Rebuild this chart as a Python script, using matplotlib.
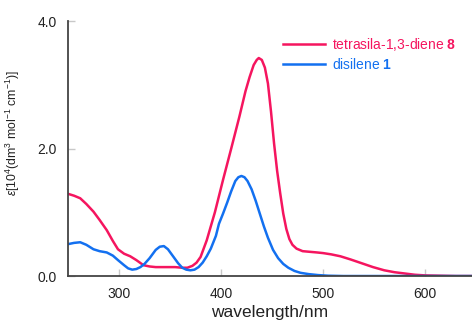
import numpy as np
import matplotlib.pyplot as plt

plt.rcParams['font.family'] = ['Liberation Sans', 'DejaVu Sans']
plt.rcParams['mathtext.fontset'] = 'custom'
plt.rcParams['mathtext.rm'] = 'Liberation Sans'
plt.rcParams['mathtext.it'] = 'Liberation Sans:italic'
plt.rcParams['mathtext.bf'] = 'Liberation Sans:bold'

# tetrasila-1,3-diene 8
wl_diene = [250, 256, 262, 268, 275, 281, 288, 294, 299, 305, 311, 317, 324, 330, 336, 345,
            355, 362, 367, 372, 376, 380, 386, 394, 402, 410, 418, 424, 428, 432, 435, 437,
            440, 443, 446, 449, 452, 455, 458, 461, 464, 467, 470, 474, 480, 487, 494, 500,
            508, 517, 527, 538, 549, 560, 570, 580, 590, 600, 615, 630, 650]
eps_diene = [1.29, 1.26, 1.22, 1.13, 1.01, 0.88, 0.72, 0.55, 0.42, 0.35, 0.31, 0.25, 0.17, 0.15,
             0.14, 0.14, 0.14, 0.13, 0.13, 0.16, 0.21, 0.30, 0.56, 1.00, 1.51, 2.00, 2.50, 2.90,
             3.12, 3.31, 3.39, 3.42, 3.39, 3.27, 3.02, 2.58, 2.08, 1.65, 1.30, 0.98, 0.74, 0.58,
             0.49, 0.43, 0.39, 0.38, 0.37, 0.36, 0.34, 0.31, 0.26, 0.20, 0.14, 0.09, 0.06, 0.04,
             0.02, 0.01, 0.005, 0.0, 0.0]

# disilene 1
wl_disilene = [250, 256, 262, 268, 275, 281, 288, 294, 299, 305, 309, 313, 317, 321, 325, 330,
               336, 340, 344, 348, 353, 358, 362, 366, 370, 374, 378, 382, 386, 390, 395, 398,
               402, 406, 410, 414, 417, 420, 423, 426, 430, 434, 438, 442, 446, 451, 456, 461,
               466, 472, 478, 486, 495, 505, 520, 650]
eps_disilene = [0.50, 0.52, 0.53, 0.49, 0.42, 0.39, 0.37, 0.32, 0.25, 0.17, 0.12, 0.10, 0.11,
                0.14, 0.19, 0.28, 0.41, 0.46, 0.47, 0.42, 0.31, 0.20, 0.13, 0.10, 0.09, 0.10,
                0.14, 0.21, 0.31, 0.43, 0.63, 0.82, 0.98, 1.15, 1.33, 1.49, 1.55, 1.57, 1.55,
                1.49, 1.36, 1.18, 0.98, 0.78, 0.60, 0.41, 0.28, 0.19, 0.13, 0.08, 0.05, 0.03,
                0.015, 0.005, 0.0, 0.0]

pink = '#f5155f'
blue = '#1370f0'

fig = plt.figure(figsize=(4.72, 3.29), dpi=100)
ax = fig.add_axes([0.144, 0.161, 0.856, 0.775])

ax.plot(wl_diene, eps_diene, color=pink, lw=1.8, label=r'tetrasila-1,3-diene $\mathbf{8}$')
ax.plot(wl_disilene, eps_disilene, color=blue, lw=1.8, label=r'disilene $\mathbf{1}$')

ax.set_xlim(250, 646)
ax.set_ylim(0, 4.0)
ax.set_xticks([300, 400, 500, 600])
ax.set_yticks([0.0, 2.0, 4.0])
ax.set_yticklabels(['0.0', '2.0', '4.0'])
ax.tick_params(direction='in', length=5, width=1, color='#c8c8c8', labelsize=10,
               labelcolor='#222222', pad=8)
for side in ['top', 'right']:
    ax.spines[side].set_visible(False)
for side in ['left', 'bottom']:
    ax.spines[side].set_color('#444444')
    ax.spines[side].set_linewidth(1.3)

ax.set_xlabel('wavelength/nm', fontsize=12.5, color='#222222', labelpad=3)
ax.set_ylabel(r'$\mathit{\varepsilon}$[10$^4$(dm$^3$ mol$^{-1}$ cm$^{-1}$)]', fontsize=8.8,
              color='#222222')
ax.yaxis.set_label_coords(-0.115, 0.56)

leg = ax.legend(loc='upper left', bbox_to_anchor=(0.502, 0.99), frameon=False, fontsize=10,
                handlelength=3.0, handletextpad=0.5, labelspacing=0.25)
for txt, c in zip(leg.get_texts(), [pink, blue]):
    txt.set_color(c)

fig.savefig('out.png', dpi=100)
